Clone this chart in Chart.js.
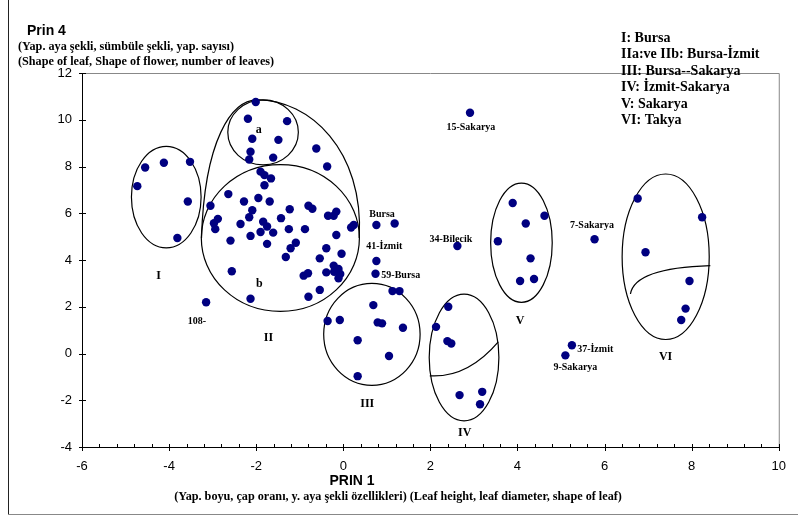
<!DOCTYPE html>
<html lang="tr">
<head>
  <meta charset="UTF-8">
  <script src="https://cdn.jsdelivr.net/npm/chart.js@4"></script>
  <style>
    html, body {
      margin: 0;
      padding: 0;
      background: #fff;
    }
    #wrap {
      width: 798px;
      height: 517px;
    }
  </style>
</head>
<body>
  <div id="wrap"><canvas id="pca-chart" width="798" height="517"></canvas></div>
  <script>
    // PRIN 1 / PRIN 4 scores, one entry per genotype
    const prin1 = [
      -4.55, -4.12, -3.52, -4.73, -3.57, -3.81,
      -2.01, -2.19, -1.29, -2.09, -1.49, -2.13, -2.16, -1.61, -0.62, -0.37,
      -1.90, -1.81, -1.66, -1.81, -2.64, -2.28, -1.95, -1.69, -3.05, -2.09,
      -2.16, -1.23, -0.80, -0.71, -2.88, -2.97, -2.94, -2.36, -1.84, -1.75,
      -1.43, -0.35, -0.16, -0.22, 0.18, 0.24, -1.25, -0.88, -2.13, -1.90,
      -1.61, -0.16, -2.59, -1.75, -1.09, -1.21, -0.39, -0.04, -1.32, -0.54,
      -0.22, -0.11, -0.39, -0.21, -0.07, -0.11, -0.81, -0.91, -2.56, -0.54,
      -0.80, -2.13,
      -3.15, 0.76, 1.18, 0.76, 0.74, 1.13, 1.29, 2.62, 2.91,
      0.69, -0.36, -0.08, 0.79, 0.89, 1.37, 0.33, 1.05, 0.33,
      2.41, 2.13, 2.39, 2.48, 2.67, 3.19, 3.14,
      5.25, 5.10,
      3.89, 4.62, 4.19, 3.55, 4.30, 4.06, 4.38,
      5.77,
      6.76, 8.24, 6.94, 7.95, 7.86, 7.76
    ];
    const prin4 = [
      7.96, 8.16, 8.20, 7.16, 6.50, 4.94,
      10.76, 10.04, 9.94, 9.19, 9.14, 8.63, 8.30, 8.38, 8.77, 8.00,
      7.78, 7.63, 7.49, 7.20, 6.82, 6.50, 6.65, 6.50, 6.32, 6.13,
      5.83, 6.17, 6.32, 6.19, 5.76, 5.57, 5.32, 5.54, 5.64, 5.43,
      5.79, 5.89, 6.07, 5.89, 5.39, 5.50, 5.32, 5.32, 5.03, 5.20,
      5.17, 5.07, 4.83, 4.69, 4.74, 4.50, 4.50, 4.27, 4.13, 4.07,
      3.76, 3.62, 3.47, 3.50, 3.40, 3.22, 3.43, 3.33, 3.52, 2.72,
      2.43, 2.34,
      2.19, 5.50, 5.56, 3.96, 3.41, 2.67, 2.67, 4.60, 10.30,
      2.07, 1.39, 1.43, 1.33, 1.29, 1.10, 0.57, -0.11, -0.97,
      2.00, 1.14, 0.53, 0.43, -1.78, -1.64, -2.17,
      0.35, -0.08,
      6.44, 5.89, 5.56, 4.80, 4.07, 3.10, 3.19,
      4.89,
      6.63, 5.83, 4.33, 3.10, 1.92, 1.43
    ];

    const xRange = [-6, 10];
    const yRange = [-4, 12];
    const majorStep = 2;
    const minorStep = 0.4;

    const legendLines = [
      'I: Bursa',
      'IIa:ve IIb: Bursa-İzmit',
      'III: Bursa--Sakarya',
      'IV: İzmit-Sakarya',
      'V: Sakarya',
      'VI: Takya'
    ];

    // group outlines, in axis units
    const ellipses = [
      { cx: -4.065, cy: 6.69, rx: 0.80, ry: 2.17 },   // I
      { cx: -1.842, cy: 9.46, rx: 0.81, ry: 1.39 },   // a
      { cx: -1.445, cy: 4.94, rx: 1.815, ry: 3.14 },  // b
      { cx: 0.657, cy: 0.82, rx: 1.107, ry: 2.18 },   // III
      { cx: 2.773, cy: -0.17, rx: 0.80, ry: 2.71 },   // IV
      { cx: 4.091, cy: 4.74, rx: 0.707, ry: 2.55 },   // V
      { cx: 7.403, cy: 4.14, rx: 1.0, ry: 3.54 }      // VI
    ];
    // outer line of group II (a + b), cubic segments
    const outlineII = [
      [-3.256, 4.944],
      [-3.187, 9.14], [-2.568, 10.85], [-1.972, 10.85],
      [-0.780, 10.85], [0.480, 8.71], [0.366, 4.944]
    ];
    // split lines inside IV and VI (quadratic)
    const splitLines = [
      [[1.986, -0.955], [2.850, -1.050], [3.559, 0.501]],
      [[6.594, 2.545], [6.692, 3.659], [8.428, 3.758]]
    ];

    const pointLabels = [
      { text: 'a', x: -1.94, y: 9.58, size: 12, align: 'center' },
      { text: 'b', x: -1.93, y: 2.96, size: 12, align: 'center' },
      { text: 'I', x: -4.24, y: 3.33, size: 12, align: 'center' },
      { text: 'II', x: -1.72, y: 0.66, size: 12, align: 'center' },
      { text: 'III', x: 0.55, y: -2.17, size: 12, align: 'center' },
      { text: 'IV', x: 2.79, y: -3.38, size: 12, align: 'center' },
      { text: 'V', x: 4.06, y: 1.40, size: 12, align: 'center' },
      { text: 'VI', x: 7.40, y: -0.15, size: 12, align: 'center' },
      { text: 'Bursa', x: 0.89, y: 5.94, size: 10, align: 'center' },
      { text: '41-İzmit', x: 0.94, y: 4.57, size: 10, align: 'center' },
      { text: '59-Bursa', x: 1.32, y: 3.36, size: 10, align: 'center' },
      { text: '34-Bilecik', x: 2.47, y: 4.90, size: 10, align: 'center' },
      { text: '15-Sakarya', x: 2.93, y: 9.66, size: 10, align: 'center' },
      { text: '7-Sakarya', x: 5.71, y: 5.46, size: 10, align: 'center' },
      { text: '37-İzmit', x: 5.37, y: 0.18, size: 10, align: 'left' },
      { text: '9-Sakarya', x: 5.33, y: -0.60, size: 10, align: 'center' },
      { text: '108-', x: -3.36, y: 1.38, size: 10, align: 'center' }
    ];

    const SERIF = '"Liberation Serif", "Times New Roman", serif';
    const SANS = '"Liberation Sans", Arial, sans-serif';

    const decorPlugin = {
      id: 'decor',
      beforeDraw(chart) {
        const ctx = chart.ctx;
        ctx.save();
        ctx.fillStyle = '#fff';
        ctx.fillRect(0, 0, chart.width, chart.height);
        // outer frame
        ctx.lineWidth = 1;
        ctx.strokeStyle = '#222';
        ctx.beginPath();
        ctx.moveTo(8.5, 0);
        ctx.lineTo(8.5, 514);
        ctx.stroke();
        ctx.strokeStyle = '#888';
        ctx.beginPath();
        ctx.moveTo(8, 514.5);
        ctx.lineTo(798, 514.5);
        ctx.stroke();
        ctx.restore();
      },
      beforeDatasetsDraw(chart) {
        const { ctx, chartArea: a, scales: { x, y } } = chart;
        ctx.save();
        // plot border (top / right)
        ctx.strokeStyle = '#888';
        ctx.lineWidth = 1;
        ctx.beginPath();
        ctx.moveTo(a.left, a.top + 0.5);
        ctx.lineTo(a.right + 0.5, a.top + 0.5);
        ctx.lineTo(a.right + 0.5, a.bottom);
        ctx.stroke();

        // axes
        ctx.strokeStyle = '#000';
        ctx.beginPath();
        ctx.moveTo(a.left + 0.5, a.top);
        ctx.lineTo(a.left + 0.5, a.bottom + 0.5);
        ctx.lineTo(a.right + 0.5, a.bottom + 0.5);
        ctx.stroke();

        ctx.beginPath();
        for (let v = xRange[0]; v <= xRange[1] + 1e-6; v += minorStep) {
          const px = Math.round(x.getPixelForValue(v)) + 0.5;
          const isMajor = Math.abs(v / majorStep - Math.round(v / majorStep)) < 1e-6;
          ctx.moveTo(px, a.bottom - 3);
          ctx.lineTo(px, a.bottom + (isMajor ? 4 : 0));
        }
        for (let v = yRange[0]; v <= yRange[1] + 1e-6; v += majorStep) {
          const py = Math.round(y.getPixelForValue(v)) + 0.5;
          ctx.moveTo(a.left - 3, py);
          ctx.lineTo(a.left + 4, py);
        }
        ctx.stroke();

        // group outlines
        ctx.lineWidth = 1.2;
        ctx.strokeStyle = '#000';
        const ux = x.getPixelForValue(1) - x.getPixelForValue(0);
        const uy = y.getPixelForValue(0) - y.getPixelForValue(1);
        ellipses.forEach(e => {
          ctx.beginPath();
          ctx.ellipse(x.getPixelForValue(e.cx), y.getPixelForValue(e.cy),
            e.rx * ux, e.ry * uy, 0, 0, Math.PI * 2);
          ctx.stroke();
        });
        const P = p => [x.getPixelForValue(p[0]), y.getPixelForValue(p[1])];
        const o = outlineII.map(P);
        ctx.beginPath();
        ctx.moveTo(o[0][0], o[0][1]);
        ctx.bezierCurveTo(o[1][0], o[1][1], o[2][0], o[2][1], o[3][0], o[3][1]);
        ctx.bezierCurveTo(o[4][0], o[4][1], o[5][0], o[5][1], o[6][0], o[6][1]);
        ctx.stroke();
        splitLines.forEach(s => {
          const q = s.map(P);
          ctx.beginPath();
          ctx.moveTo(q[0][0], q[0][1]);
          ctx.quadraticCurveTo(q[1][0], q[1][1], q[2][0], q[2][1]);
          ctx.stroke();
        });
        ctx.restore();
      },
      afterDatasetsDraw(chart) {
        const { ctx, scales: { x, y } } = chart;
        ctx.save();
        ctx.fillStyle = '#000';
        ctx.textBaseline = 'middle';
        pointLabels.forEach(l => {
          ctx.font = 'bold ' + l.size + 'px ' + SERIF;
          ctx.textAlign = l.align;
          ctx.fillText(l.text, x.getPixelForValue(l.x), y.getPixelForValue(l.y));
        });

        // legend block, top right
        ctx.textAlign = 'left';
        ctx.font = 'bold 14px ' + SERIF;
        legendLines.forEach((t, i) => ctx.fillText(t, 621, 38 + i * 16.5));

        // y axis title
        ctx.font = 'bold 14px ' + SANS;
        ctx.fillText('Prin 4', 27, 31);
        ctx.font = 'bold 12.2px ' + SERIF;
        ctx.fillText('(Yap. aya şekli, sümbüle şekli, yap. sayısı)', 18, 47);
        ctx.fillText('(Shape of leaf, Shape of flower, number of leaves)', 18, 62);

        // x axis title
        ctx.textAlign = 'center';
        ctx.font = 'bold 14px ' + SANS;
        ctx.fillText('PRIN 1', 352, 481);
        ctx.font = 'bold 12.2px ' + SERIF;
        ctx.fillText('(Yap. boyu, çap oranı, y. aya şekli özellikleri) (Leaf height, leaf diameter, shape of leaf)', 398, 497);
        ctx.restore();
      }
    };

    const points = prin1.map((v, i) => ({ x: v, y: prin4[i] }));

    new Chart(document.getElementById('pca-chart'), {
      type: 'scatter',
      data: {
        datasets: [{
          label: 'PRIN 1 / PRIN 4',
          data: points,
          backgroundColor: '#000080',
          borderColor: '#000080',
          borderWidth: 0,
          pointRadius: 4.2,
          pointHoverRadius: 4.2
        }]
      },
      options: {
        responsive: false,
        animation: false,
        devicePixelRatio: 1,
        layout: { padding: { left: 0, right: 18, top: 73, bottom: 0 } },
        plugins: {
          legend: { display: false },
          tooltip: { enabled: false }
        },
        scales: {
          x: {
            type: 'linear',
            min: xRange[0],
            max: xRange[1],
            afterFit: s => { s.height = 70; },
            grid: { display: true, drawOnChartArea: false, drawTicks: false, color: 'transparent' },
            border: { display: false },
            ticks: {
              stepSize: majorStep,
              padding: 12,
              color: '#000',
              font: { family: SANS, size: 13 }
            }
          },
          y: {
            type: 'linear',
            min: yRange[0],
            max: yRange[1],
            afterFit: s => { s.width = 82; },
            grid: { display: true, drawOnChartArea: false, drawTicks: false, color: 'transparent' },
            border: { display: false },
            ticks: {
              stepSize: majorStep,
              padding: 10,
              color: '#000',
              font: { family: SANS, size: 13 }
            }
          }
        }
      },
      plugins: [decorPlugin]
    });
  </script>
</body>
</html>
